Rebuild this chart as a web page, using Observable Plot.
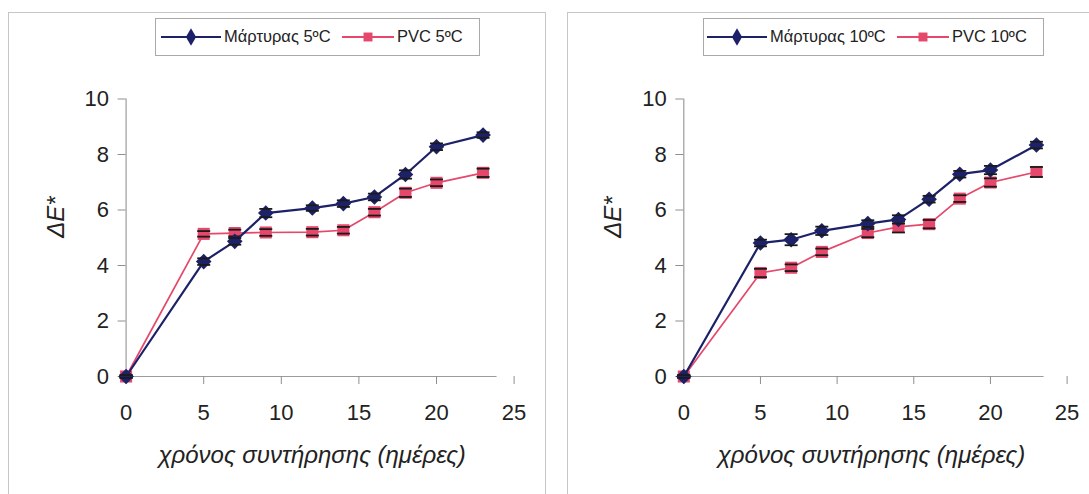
<!DOCTYPE html>
<html>
<head>
<meta charset="utf-8">
<script src="https://cdn.jsdelivr.net/npm/d3@7"></script>
<script src="https://cdn.jsdelivr.net/npm/@observablehq/plot@0.6"></script>
<style>
  body { margin: 0; background: #fff; font-family: "Liberation Sans", Arial, sans-serif; }
  #page { position: relative; width: 1089px; height: 494px; overflow: hidden; background: #fff; }
  .panel { position: absolute; top: 12px; height: 520px; border: 1.5px solid #c6c6c6; border-bottom: none; box-sizing: border-box; }
  .chart { position: absolute; top: 0; }
  .chart svg { overflow: visible; }
  .legend { position: absolute; top: 18px; height: 38px; border: 1.5px solid #a9a9a9; background: #fff; box-sizing: border-box; color: #222; font-size: 16.5px; }
  .legend .item { position: absolute; top: 0; height: 35px; display: flex; align-items: center; white-space: nowrap; }
  .legend svg { display: block; }
</style>
</head>
<body>
<div id="page"></div>
<script>
// Storage time in days
const days = [0, 5, 7, 9, 12, 14, 16, 18, 20, 23];

// ΔE* at 5 °C
const control5 = [0, 4.14, 4.87, 5.89, 6.07, 6.23, 6.47, 7.28, 8.28, 8.70];
const control5Err = [0.05, 0.12, 0.12, 0.15, 0.1, 0.12, 0.12, 0.15, 0.12, 0.1];
const pvc5 = [0, 5.14, 5.17, 5.19, 5.20, 5.27, 5.92, 6.62, 6.98, 7.34];
const pvc5Err = [0.05, 0.1, 0.12, 0.12, 0.12, 0.12, 0.12, 0.15, 0.12, 0.15];

// ΔE* at 10 °C
const control10 = [0, 4.81, 4.93, 5.25, 5.51, 5.66, 6.39, 7.29, 7.44, 8.34];
const control10Err = [0.05, 0.12, 0.2, 0.15, 0.12, 0.15, 0.12, 0.12, 0.15, 0.12];
const pvc10 = [0, 3.73, 3.92, 4.49, 5.17, 5.39, 5.49, 6.41, 6.99, 7.37];
const pvc10Err = [0.05, 0.15, 0.12, 0.12, 0.15, 0.2, 0.15, 0.12, 0.15, 0.18];

const xTicks = [0, 5, 10, 15, 20, 25];
const yTicks = [0, 2, 4, 6, 8, 10];
const xTitle = "χρόνος συντήρησης (ημέρες)";
const yTitle = "ΔE*";
const legend5 = ["Μάρτυρας 5ºC", "PVC 5ºC"];
const legend10 = ["Μάρτυρας 10ºC", "PVC 10ºC"];

const navy = "#1c2168";
const pink = "#e5486b";
const errColor = "#1a1a1a";
const font = "'Liberation Sans', Arial, sans-serif";

// horizontal cap used at both ends of each error bar
const cap = {
  draw(ctx, size) {
    const w = Math.sqrt(size / Math.PI);
    ctx.moveTo(-w, 0);
    ctx.lineTo(w, 0);
  }
};

// square-proportioned diamond marker
const rhombus = {
  draw(ctx, size) {
    const s = Math.sqrt(size / Math.PI);
    ctx.moveTo(0, -s);
    ctx.lineTo(s, 0);
    ctx.lineTo(0, s);
    ctx.lineTo(-s, 0);
    ctx.closePath();
  }
};

function rows(vals, errs) {
  return days.map((d, i) => ({ day: d, value: vals[i], err: errs[i] }));
}

function seriesMarks(data, color, symbol, r, lineWidth) {
  return [
    Plot.line(data, { x: "day", y: "value", stroke: color, strokeWidth: lineWidth }),
    Plot.ruleX(data, { x: "day", y1: d => d.value - d.err, y2: d => d.value + d.err, stroke: errColor, strokeWidth: 1.4 }),
    Plot.dot(data, { x: "day", y: "value", symbol, r, fill: color, stroke: "none" }),
    Plot.dot(data, { x: "day", y: d => d.value + d.err, symbol: cap, r: 6.5, stroke: errColor, strokeWidth: 1.8 }),
    Plot.dot(data, { x: "day", y: d => d.value - d.err, symbol: cap, r: 6.5, stroke: errColor, strokeWidth: 1.8 })
  ];
}

function panel({ control, controlErr, pvc, pvcErr, width, marginLeft, marginRight, axisEnd, titleDx }) {
  const a = rows(control, controlErr);
  const b = rows(pvc, pvcErr);
  return Plot.plot({
    width,
    height: 494,
    marginLeft,
    marginRight,
    marginTop: 98.5,
    marginBottom: 118,
    style: { fontFamily: font, background: "transparent", color: "#222", overflow: "visible" },
    x: { domain: [0, 25] },
    y: { domain: [0, 10] },
    marks: [
      Plot.ruleX([0], { y1: 0, y2: 10, stroke: "#9c9c9c", strokeWidth: 1.2 }),
      Plot.ruleY([0], { x1: 0, x2: axisEnd, stroke: "#9c9c9c", strokeWidth: 1.2 }),
      Plot.axisX(xTicks, { tickSize: 8, tickPadding: 20, stroke: "#8f8f8f", fill: "#222", fontSize: 22, label: null }),
      Plot.axisY(yTicks, { tickSize: 8, tickPadding: 9, stroke: "#8f8f8f", fill: "#222", fontSize: 22, label: null }),
      Plot.text([yTitle], { frameAnchor: "left", dx: -70, rotate: -90, fontSize: 24, fontStyle: "italic", fill: "#222" }),
      Plot.text([xTitle], { frameAnchor: "bottom", dy: 86, dx: titleDx, fontSize: 24, fontStyle: "italic", fill: "#222" }),
      ...seriesMarks(b, pink, "square", 6.8, 1.7),
      ...seriesMarks(a, navy, rhombus, 7.8, 2.2)
    ]
  });
}

function legendItem(label, color, symbolType, size, lineWidth) {
  const sym = d3.symbol(symbolType === "square" ? d3.symbolSquare : d3.symbolDiamond, size)();
  const w = lineWidth;
  return `<svg width="${w}" height="20" viewBox="0 0 ${w} 20">
      <line x1="0" x2="${w}" y1="10" y2="10" stroke="${color}" stroke-width="2"/>
      <path d="${sym}" transform="translate(${w / 2},10)" fill="${color}"/>
    </svg><span style="margin-left:3px">${label}</span>`;
}

function legend(labels, left, width, items) {
  const el = document.createElement("div");
  el.className = "legend";
  el.style.left = left + "px";
  el.style.width = width + "px";
  el.innerHTML =
    `<div class="item" style="left:${items[0]}px">${legendItem(labels[0], navy, "diamond", 90, 60)}</div>` +
    `<div class="item" style="left:${items[1]}px">${legendItem(labels[1], pink, "square", 80, 52)}</div>`;
  return el;
}

const page = document.getElementById("page");

const frameL = document.createElement("div");
frameL.className = "panel";
frameL.style.left = "8px";
frameL.style.width = "538px";
page.appendChild(frameL);

const frameR = document.createElement("div");
frameR.className = "panel";
frameR.style.left = "567px";
frameR.style.width = "540px";
page.appendChild(frameR);

const left = document.createElement("div");
left.className = "chart";
left.style.left = "0px";
left.appendChild(panel({
  control: control5, controlErr: control5Err, pvc: pvc5, pvcErr: pvc5Err,
  width: 545, marginLeft: 125.6, marginRight: 31.4, axisEnd: 23.9, titleDx: -8
}));
page.appendChild(left);

const right = document.createElement("div");
right.className = "chart";
right.style.left = "560px";
right.appendChild(panel({
  control: control10, controlErr: control10Err, pvc: pvc10, pvcErr: pvc10Err,
  width: 529, marginLeft: 123.3, marginRight: 22.4, axisEnd: 23.5, titleDx: -4
}));
page.appendChild(right);

page.appendChild(legend(legend5, 155, 325, [5, 186]));
page.appendChild(legend(legend10, 703, 341, [3, 193]));
</script>
</body>
</html>
